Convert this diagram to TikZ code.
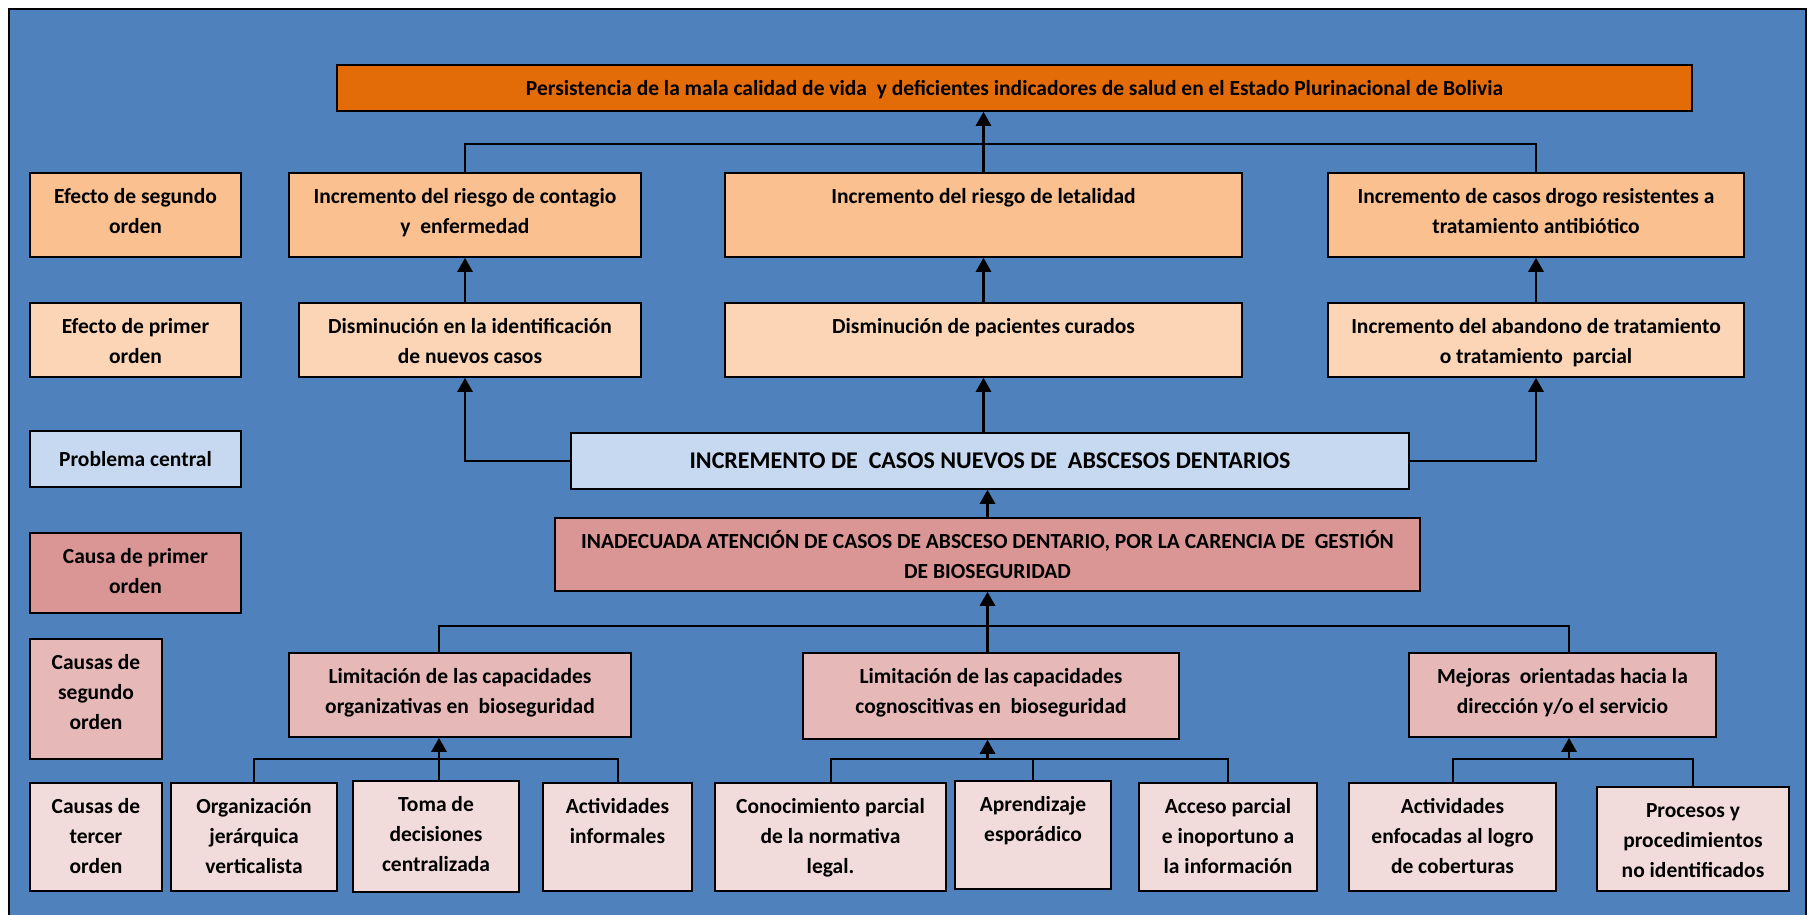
\documentclass[tikz,border=0pt]{standalone}
\usepackage{fontspec}
\setmainfont{Carlito}
\usetikzlibrary{arrows.meta}
\definecolor{bgblue}{HTML}{4F81BD}
\definecolor{topor}{HTML}{E36C09}
\definecolor{eff2}{HTML}{FAC090}
\definecolor{eff1}{HTML}{FBD5B5}
\definecolor{cenblue}{HTML}{C6D9F1}
\definecolor{cau1}{HTML}{D99694}
\definecolor{cau2}{HTML}{E6B9B8}
\definecolor{cau3}{HTML}{F2DCDB}
\tikzset{
  box/.style={draw=black, line width=1.6pt, inner sep=0pt},
  txt/.style={font=\fontsize{21.5}{30}\selectfont\bfseries, align=center, inner sep=0pt, text=black},
  conn/.style={line width=2pt},
  arr/.style={line width=2.8pt, -{Triangle[length=14pt,width=15pt]}},
}
\newcommand\mkbox[7]{\node[box,fill=#6,minimum width={#4-#2},minimum height={#5-#3},
  label={[txt,anchor=north,yshift=-10pt]north:{\strut #7}}] (#1) at ({(#2+#4)/2},{(#3+#5)/2}) {};}
\begin{document}
\begin{tikzpicture}[x=1pt,y=-1pt]
\clip (0,0) rectangle (1816,915);
\useasboundingbox (0,0) rectangle (1816,915);
\fill[white] (0,0) rectangle (1816,915);
\draw[fill=bgblue, line width=2pt] (9,9) rectangle (1806,940);
% top
\mkbox{top}{337}{65}{1692}{111}{topor}{Persistencia de la mala calidad de vida\ \ y deficientes indicadores de salud en el Estado Plurinacional de Bolivia}
% legends
\mkbox{l1}{30}{173}{241}{257}{eff2}{Efecto de segundo\\orden}
\mkbox{l2}{30}{303}{241}{377}{eff1}{Efecto de primer\\orden}
\node[box,fill=cenblue,minimum width=211,minimum height=56,txt] (l3) at (135.5,459) {Problema central};
\mkbox{l4}{30}{533}{241}{613}{cau1}{Causa de primer\\orden}
\mkbox{l5}{30}{639}{162}{759}{cau2}{Causas de\\segundo\\orden}
\mkbox{l6}{30}{783}{162}{891}{cau3}{Causas de\\tercer\\orden}
% effects
\mkbox{a2}{289}{173}{641}{257}{eff2}{Incremento del riesgo de contagio\\y\ \ enfermedad}
\mkbox{b2}{725}{173}{1242}{257}{eff2}{Incremento del riesgo de letalidad}
\mkbox{c2}{1328}{173}{1744}{257}{eff2}{Incremento de casos drogo resistentes a\\tratamiento antibiótico}
\mkbox{a1}{299}{303}{641}{377}{eff1}{Disminución en la identificación\\de nuevos casos}
\mkbox{b1}{725}{303}{1242}{377}{eff1}{Disminución de pacientes curados}
\mkbox{c1}{1328}{303}{1744}{377}{eff1}{Incremento del abandono de tratamiento\\o tratamiento\ \ parcial}
% central
\node[box,fill=cenblue,minimum width=838,minimum height=56,txt,font=\fontsize{24}{30}\selectfont\bfseries] (cen) at (990,461) {INCREMENTO DE\ \ CASOS NUEVOS DE\ \ ABSCESOS DENTARIOS};
\mkbox{cau}{555}{518}{1420}{591}{cau1}{INADECUADA ATENCIÓN DE CASOS DE ABSCESO DENTARIO, POR LA CARENCIA DE\ \ GESTIÓN\\DE BIOSEGURIDAD}
% second order causes
\mkbox{d}{289}{653}{631}{737}{cau2}{Limitación de las capacidades\\organizativas en\ \ bioseguridad}
\mkbox{e}{803}{653}{1179}{739}{cau2}{Limitación de las capacidades\\cognoscitivas en\ \ bioseguridad}
\mkbox{f}{1409}{653}{1716}{737}{cau2}{Mejoras\ \ orientadas hacia la\\dirección y/o el servicio}
% third order causes
\mkbox{g1}{171}{783}{337}{891}{cau3}{Organización\\jerárquica\\verticalista}
\mkbox{g2}{353}{781}{519}{892}{cau3}{Toma de\\decisiones\\centralizada}
\mkbox{g3}{543}{783}{692}{891}{cau3}{Actividades\\informales}
\mkbox{h1}{715}{783}{946}{891}{cau3}{Conocimiento parcial\\de la normativa\\legal.}
\mkbox{h2}{955}{781}{1111}{889}{cau3}{Aprendizaje\\esporádico}
\mkbox{h3}{1139}{783}{1317}{891}{cau3}{Acceso parcial\\e inoportuno a\\la información}
\mkbox{i1}{1349}{783}{1556}{891}{cau3}{Actividades\\enfocadas al logro\\de coberturas}
\mkbox{i2}{1597}{787}{1789}{891}{cau3}{Procesos y\\procedimientos\\no identificados}
% junction coordinates
\coordinate (bar0) at (0,144);
\coordinate (bar1) at (0,626);
\coordinate (bar2) at (0,759);
\coordinate (dx) at (439,0);
\coordinate (fx) at (1569,0);
% effect connectors
\draw[conn] (a2.north) |- (bar0 -| c2.north) -- (c2.north);
\draw[arr] (b2.north) -- (top.south -| b2.north);
\draw[arr] (a1.north -| a2.south) -- (a2.south);
\draw[arr] (b1.north) -- (b2.south);
\draw[arr] (c1.north) -- (c2.south);
\draw[arr] (cen.west) -| (a1.south -| a2.south);
\draw[arr] (cen.east) -| (c1.south);
\draw[arr] (cen.north -| b1.south) -- (b1.south);
\draw[arr] (cau.north) -- (cen.south -| cau.north);
% cause connectors
\draw[conn] (d.north -| dx) |- (bar1 -| fx) -- (f.north -| fx);
\draw[arr] (e.north -| cau.south) -- (cau.south);
\draw[conn] (g1.north) |- (bar2 -| g3.north) -- (g3.north);
\draw[arr] (g2.north -| dx) -- (d.south -| dx);
\draw[conn] (h1.north) |- (bar2 -| h3.north) -- (h3.north);
\draw[conn] (h2.north) -- (h2.north |- bar2);
\draw[arr] (bar2 -| cau.south) -- (e.south -| cau.south);
\draw[conn] (i1.north) |- (bar2 -| i2.north) -- (i2.north);
\draw[arr] (bar2 -| fx) -- (f.south -| fx);
\end{tikzpicture}
\end{document}
